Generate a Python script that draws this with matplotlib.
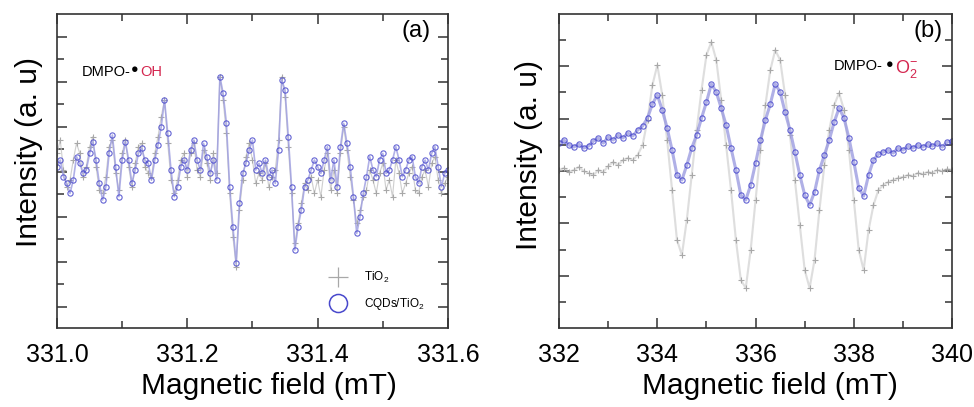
import numpy as np
import matplotlib
matplotlib.use("Agg")
import matplotlib.pyplot as plt
from matplotlib.lines import Line2D
from matplotlib.ticker import FixedLocator, NullFormatter

plt.rcParams['font.family'] = ['Liberation Sans', 'DejaVu Sans']
plt.rcParams['mathtext.fontset'] = 'custom'
plt.rcParams['mathtext.rm'] = 'Liberation Sans'
plt.rcParams['mathtext.default'] = 'regular'

# ---- panel (a): DMPO-OH, field 331.0 .. 331.6 mT, step 0.005 ----
field_a = np.round(np.arange(331.0, 331.6001, 0.005), 3)
cqd_a = [48, 50, 45, 43, 40, 44, 51, 49, 46, 47,
         52, 55.5, 50, 43, 38, 42, 52, 57.5, 48, 39,
         50, 55.5, 50, 43, 47, 52, 53.5, 50, 49, 44,
         50, 54.5, 60, 68, 58, 47, 39, 42, 48, 50,
         47, 53, 56, 50, 47, 55, 51, 46, 50, 44,
         75, 70, 61, 42, 30, 19, 37, 46, 49, 53,
         56, 47, 49, 46, 50, 45, 47, 43, 53, 74,
         71, 57, 42, 23, 30, 35, 42, 44, 47, 50,
         48, 46, 50, 54, 44, 50, 42, 54, 61, 55,
         48, 39, 28, 33, 40, 45, 51, 47, 45, 50,
         52, 46, 47, 50, 54, 50, 45, 47, 50, 51,
         45, 43, 48, 50, 47, 52, 54, 48, 42, 46, 47]
tio2_a = [52, 56, 47, 42, 44, 50, 55, 52, 45, 48,
          54, 57, 48, 41, 40, 45, 54, 56, 46, 41,
          52, 56, 48, 42, 49, 54, 55, 48, 46, 45,
          52, 57, 63, 68, 55, 44, 40, 44, 50, 52,
          45, 52, 55, 47, 45, 53, 49, 44, 52, 46,
          75, 68, 58, 40, 27, 18, 35, 44, 51, 55,
          50, 43, 46, 44, 49, 42, 45, 47, 56, 75,
          69, 54, 40, 25, 31, 37, 43, 41, 45, 40,
          44, 39, 47, 52, 41, 47, 40, 52, 60, 53,
          45, 38, 31, 35, 39, 41, 47, 44, 40, 46,
          49, 41, 44, 39, 50, 46, 40, 43, 46, 48,
          41, 40, 45, 47, 42, 49, 51, 44, 40, 43, 45]

# ---- panel (b): DMPO-O2-, field 332 .. 340 mT, step 0.1 ----
field_b = np.round(np.arange(332.0, 340.001, 0.1), 1)
cqd_b = [157, 160, 155, 153, 156, 152, 154, 159, 162, 157,
         163, 160, 165, 162, 167, 164, 170, 174, 182, 196,
         205, 190, 172, 150, 125, 120, 135, 152, 165, 182,
         198, 216, 208, 192, 175, 152, 130, 105, 100, 115,
         137, 160, 180, 196, 216, 208, 188, 170, 148, 125,
         105, 95, 108, 130, 145, 160, 178, 192, 182, 162,
         138, 112, 104, 125, 140, 146, 148, 150, 147, 152,
         150, 154, 152, 155, 153, 156, 154, 157, 153, 158, 159]
tio2_b = [130, 132, 128, 130, 133, 129, 127, 125, 130, 128,
          134, 138, 135, 140, 142, 140, 145, 155, 180, 215,
          235, 205, 160, 110, 60, 45, 80, 125, 170, 210,
          245, 258, 240, 200, 155, 110, 60, 20, 12, 50,
          100, 150, 195, 230, 250, 240, 205, 165, 120, 75,
          30, 12, 40, 90, 135, 170, 195, 207, 190, 150,
          100, 50, 30, 70, 95, 110, 115, 118, 120, 122,
          123, 125, 124, 127, 126, 128, 127, 130, 129, 131, 130]

grey = '#c4c4c4'
blue = '#4848cc'
blue_band = '#9c9ce0'
red = '#d4264f'
spine_c = '#333333'

fig = plt.figure(figsize=(9.74, 4.07), dpi=100)
ax1 = fig.add_axes([0.0585, 0.194, 0.4014, 0.7715])
ax2 = fig.add_axes([0.574, 0.194, 0.4035, 0.7715])


def style(ax, yticks_major, yticks_minor):
    for s in ax.spines.values():
        s.set_color(spine_c)
        s.set_linewidth(1.2)
    ax.yaxis.set_major_locator(FixedLocator(yticks_major))
    ax.yaxis.set_minor_locator(FixedLocator(yticks_minor))
    ax.yaxis.set_major_formatter(NullFormatter())
    ax.tick_params(which='both', direction='in', top=True, right=True,
                   color=spine_c, width=1.1)
    ax.tick_params(which='major', length=7, labelsize=18, pad=11)
    ax.tick_params(which='minor', length=5)
    ax.set_xlabel('Magnetic field (mT)', fontsize=21.5)
    ax.set_ylabel('Intensity (a. u)', fontsize=21.5)


def draw(ax, x, tio2, cqd, band, grey_alpha):
    ax.plot(x, tio2, color=grey, lw=band * 0.7, alpha=grey_alpha)
    ax.plot(x, tio2, color='#a8a8a8', ls='none', marker='+', ms=4, mew=0.8)
    ax.plot(x, cqd, color=blue_band, lw=band, alpha=0.8)
    ax.plot(x, cqd, color=blue, ls='none', marker='o', ms=3.8, mew=0.8,
            mfc='none', alpha=0.85)


# panel (a)
draw(ax1, field_a, tio2_a, cqd_a, 1.2, 0.8)
ax1.set_xlim(331.0, 331.6)
ax1.set_ylim(-0.4, 93.8)
ax1.set_xticks([331.0, 331.2, 331.4, 331.6])
ax1.set_xticklabels(['331.0', '331.2', '331.4', '331.6'])
ax1.xaxis.set_minor_locator(FixedLocator([331.1, 331.3, 331.5]))
ya = np.linspace(6, 87, 13)
style(ax1, ya[::2], ya[1::2])
ax1.xaxis.set_label_coords(0.542, -0.14)
ax1.yaxis.set_label_coords(-0.036, 0.56)
ax1.text(0.955, 0.945, '(a)', transform=ax1.transAxes, fontsize=17,
         ha='right', va='center')
ax1.text(0.064, 0.817, 'DMPO-', transform=ax1.transAxes, fontsize=10.5,
         ha='left', va='center')
ax1.text(0.189, 0.821, '\u25cf', transform=ax1.transAxes, fontsize=9,
         ha='left', va='center')
ax1.text(0.212, 0.817, 'OH', transform=ax1.transAxes, fontsize=10.5,
         ha='left', va='center', color=red)
handles = [Line2D([], [], color='#a8a8a8', ls='none', marker='+', ms=14,
                  mew=0.9),
           Line2D([], [], color=blue, ls='none', marker='o', ms=13, mew=1.1,
                  mfc='none')]
ax1.legend(handles, ['TiO$_2$', 'CQDs/TiO$_2$'], loc='lower right',
           frameon=False, fontsize=8.5, handletextpad=1.2,
           labelspacing=0.9, borderaxespad=0.3, bbox_to_anchor=(0.96, 0.025))

# panel (b)
draw(ax2, field_b, tio2_b, cqd_b, 2.2, 0.55)
ax2.set_xlim(332, 340)
ax2.set_ylim(-28, 286)
ax2.set_xticks([332, 334, 336, 338, 340])
ax2.xaxis.set_minor_locator(FixedLocator([333, 335, 337, 339]))
yb = np.linspace(-2, 260, 11)
style(ax2, yb[1::2], yb[::2])
ax2.xaxis.set_label_coords(0.537, -0.14)
ax2.yaxis.set_label_coords(-0.041, 0.55)
ax2.text(0.975, 0.945, '(b)', transform=ax2.transAxes, fontsize=17,
         ha='right', va='center')
ax2.text(0.70, 0.833, 'DMPO-', transform=ax2.transAxes, fontsize=10.5,
         ha='left', va='center')
ax2.text(0.831, 0.838, '\u25cf', transform=ax2.transAxes, fontsize=9,
         ha='left', va='center')
ax2.text(0.855, 0.826, 'O$_2^{-}$', transform=ax2.transAxes, fontsize=13,
         ha='left', va='center', color=red)

fig.savefig('out.png', dpi=100)
